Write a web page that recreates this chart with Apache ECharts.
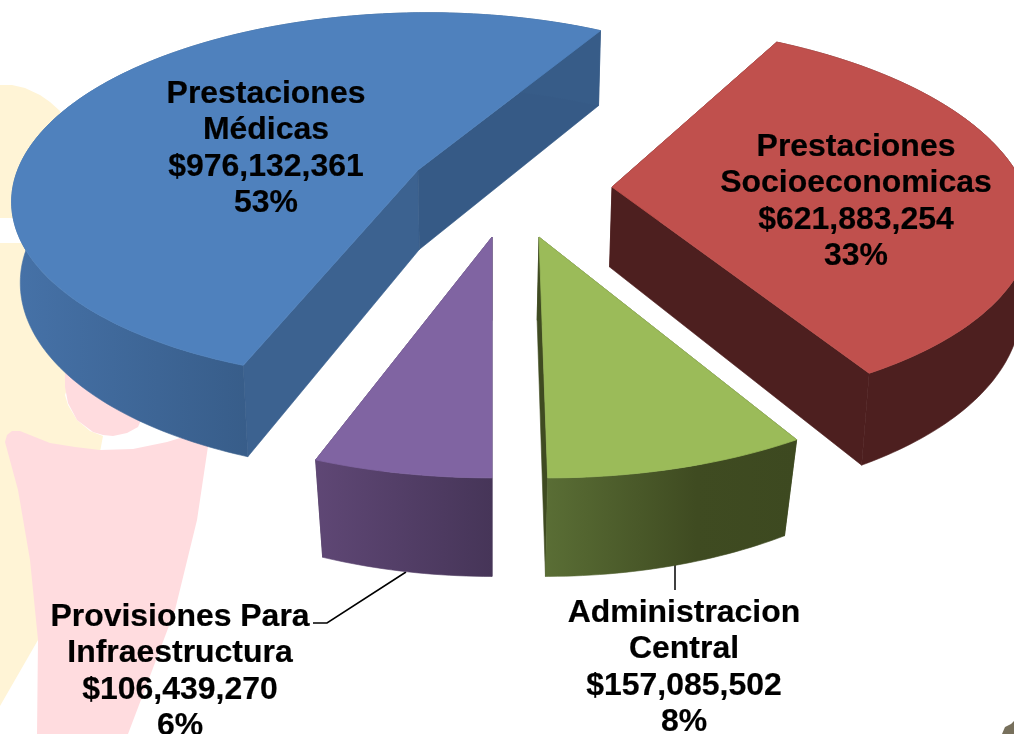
<!DOCTYPE html>
<html>
<head>
<meta charset="utf-8">
<style>html,body{margin:0;padding:0;background:#fff}#c{width:1014px;height:734px}</style>
<script src="https://cdn.jsdelivr.net/npm/echarts@6/dist/echarts.min.js"></script>
</head>
<body>
<div id="c"></div>
<script>
// ---- data ----
var categories = ['Prestaciones\nMédicas', 'Prestaciones\nSocioeconomicas', 'Administracion\nCentral', 'Provisiones Para\nInfraestructura'];
var amounts = [976132361, 621883254, 157085502, 106439270];
var percentLabels = ['53%', '33%', '8%', '6%'];

// ---- layout ----
var apexes = [[418,170],[612,187],[539,237],[492,237]];
var labelCenters = [[266,94],[856,147],[684,613],[180,617]];
var convergence = [0.018,0.02,0.04,0.04];
var radii = [0.985,1,1,1];
var LINE = 36.6, CX = 492, CY = 187, A = 412, B = 188, P = 0.15, H0 = 80;
// ---- style ----
var topColors = ['#4F81BD','#C0504D','#9BBB59','#8064A2'];
var wallStops = [
  [[0,'#4672A8'],[0.42,'#375C88'],[1,'#375C88']],
  [[0,'#4D1F1F'],[1,'#4D1F1F']],
  [[0,'#5A6E35'],[0.6,'#3F4B21'],[1,'#3D4920']],
  [[0,'#5F4775'],[1,'#463558']]
];
var startWall = ['#3C6290','#4D1F1F','#3F4B21','#463558'];
var endWall = ['#365A86','#4D1F1F','#3F4B21','#463558'];

var total = amounts.reduce(function(a,b){return a+b;},0);
var firstAngle = amounts[3] / total * 360;  // purple slice starts straight toward the viewer

function project(u, v) {
  var d = 1 - P * v;
  return { x: CX + A * u / d, y: CY + B * v / d, f: 1 / d };
}
function discOf(sx, sy) {
  var Y = (sy - CY) / B, v = Y / (1 + P * Y);
  return [(sx - CX) * (1 - P * v) / A, v];
}
function dropper(c) {
  return function (p) {
    var f = p.f > 1 ? p.f : 1 - (1 - p.f) * 0.5;
    return [p.x - (p.x - CX) * c, p.y + H0 * f];
  };
}
function fmt(n){ return '$' + String(n).replace(/\B(?=(\d{3})+$)/g, ','); }

function renderSlice(params, api) {
  var i = params.dataIndex, val = api.value(0);
  var before = 0;
  for (var k = 0; k < i; k++) before += amounts[k];
  var a0 = firstAngle + before / total * 360;
  var a1 = a0 + val / total * 360;
  var o = discOf(apexes[i][0], apexes[i][1]);
  var apex = project(o[0], o[1]);
  var drop = dropper(convergence[i]);
  var r = radii[i];
  var arc = [];
  for (var t = a0; ; t += 1) {
    var th = Math.min(t, a1) * Math.PI / 180;
    arc.push(project(o[0] - r * Math.sin(th), o[1] + r * Math.cos(th)));
    if (t >= a1) break;
  }
  var topPts = [[apex.x, apex.y]].concat(arc.map(function(p){return [p.x,p.y];}));
  var wallPts = arc.map(function(p){return [p.x,p.y];}).concat(arc.slice().reverse().map(drop));
  var first = arc[0], last = arc[arc.length-1];
  var grad = new echarts.graphic.LinearGradient(0,0,1,0,wallStops[i].map(function(s){return {offset:s[0],color:s[1]};}));
  var kids = [
    {type:'polygon', shape:{points:[[apex.x,apex.y],[first.x,first.y],drop(first),drop(apex)]}, style:{fill:startWall[i],stroke:startWall[i],lineWidth:0.6}},
    {type:'polygon', shape:{points:[[apex.x,apex.y],[last.x,last.y],drop(last),drop(apex)]}, style:{fill:endWall[i],stroke:endWall[i],lineWidth:0.6}},
    {type:'polygon', shape:{points:wallPts}, style:{fill:grad,stroke:grad,lineWidth:0.6}},
    {type:'polygon', shape:{points:topPts}, style:{fill:topColors[i],stroke:topColors[i],lineWidth:0.8}}
  ];
  return {type:'group', children:kids};
}

function renderLabel(params, api) {
  var i = params.dataIndex;
  var lines = categories[i].split('\n').concat([fmt(api.value(0)), percentLabels[i]]);
  return {type:'group', children: lines.map(function(s, n){
    return {type:'text', x: labelCenters[i][0], y: labelCenters[i][1] + n * LINE, scaleX: 1.03,
      style:{text:s, fill:'#000', stroke:'#000', lineWidth:0.2, font:'bold 31px "Liberation Sans", Arial, sans-serif', textAlign:'center', textVerticalAlign:'middle'}};
  })};
}

var chart = echarts.init(document.getElementById('c'), null, {renderer:'canvas'});
var data = amounts.map(function(v){return [v];});
chart.setOption({
  animation:false,
  backgroundColor:'#ffffff',
  graphic:[
    {type:'polygon', z:0, shape:{points:[[0,85],[12,85],[25,88],[40,95],[50,102],[60,111],[70,125],[70,380],[65,395],[68,405],[77,420],[90,431],[103,436],[100,452],[60,560],[38,640],[0,706]]}, style:{fill:'#FFF4D6'}},
    {type:'rect', z:0, shape:{x:0,y:218,width:30,height:25}, style:{fill:'#fff'}},
    {type:'polygon', z:1, shape:{points:[[65,370],[65,387],[68,403],[77,420],[93,432],[103,435],[113,436],[127,433],[138,427],[150,400]]}, style:{fill:'#FFDCDF'}},
    {type:'polygon', z:1, shape:{points:[[5,442],[7,435],[12,431],[20,431],[35,437],[50,443],[75,447],[100,450],[133,449],[167,442],[200,432],[209,440],[207,453],[197,520],[175,610],[128,734],[37,734],[38,640],[30,560],[18,490]]}, style:{fill:'#FFDCDF'}},
    {type:'polyline', z:1, shape:{points:[[313,623],[327,623],[406,572]]}, style:{stroke:'#000',fill:null,lineWidth:1.5}},
    {type:'line', z:1, shape:{x1:675,y1:565,x2:675,y2:590}, style:{stroke:'#000',lineWidth:1.5}},
    {type:'polygon', z:1, shape:{points:[[1002,734],[1005,727],[1011,724],[1014,721],[1014,734]]}, style:{fill:'#77705c'}}
  ],
  series:[
    {type:'custom', coordinateSystem:'none', z:5, silent:true, renderItem:renderSlice, data:data},
    {type:'custom', coordinateSystem:'none', z:6, silent:true, renderItem:renderLabel, data:data}
  ]
});
</script>
</body>
</html>
